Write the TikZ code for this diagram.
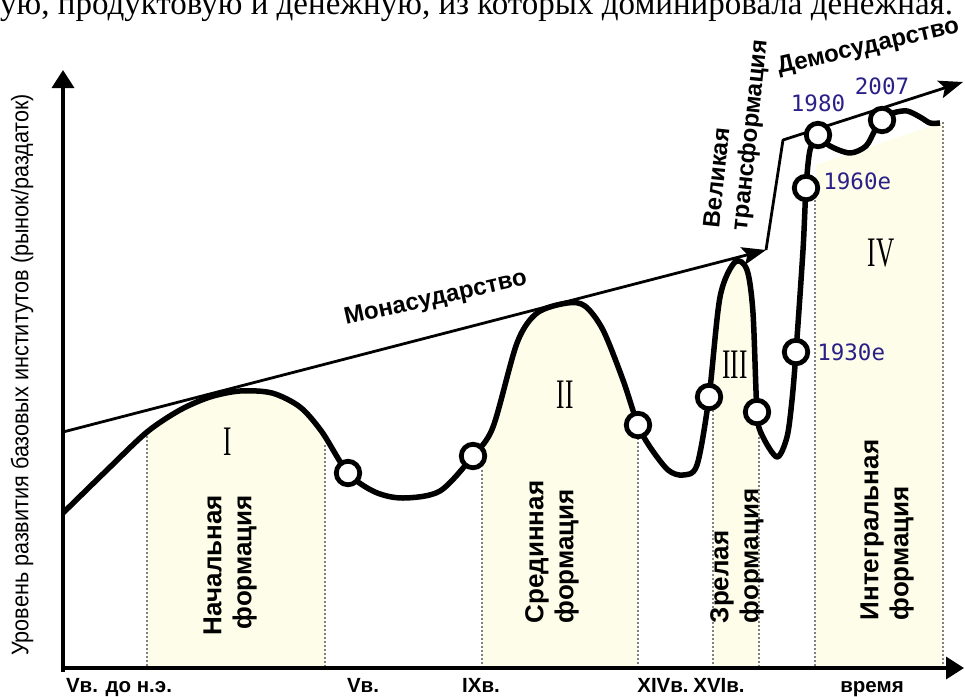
\documentclass[tikz,border=0pt]{standalone}
\usepackage{fontspec}
\setmainfont{Liberation Serif}
\newfontfamily\labelfont{Liberation Sans}
\newfontfamily\axisfont[FakeStretch=0.9]{Liberation Sans}
\newfontfamily\yearfont{DejaVu Sans Mono}
\newfontfamily\romanfont[FakeStretch=0.6]{Liberation Serif}
\usepackage{xcolor}
\usetikzlibrary{arrows.meta, positioning}

\definecolor{formfill}{HTML}{FDFDE9}
\definecolor{yearblue}{HTML}{2A2088}
\definecolor{dotgray}{HTML}{808080}

% main growth curve, up to the 1980 point
\newcommand{\formcurve}{plot[smooth] coordinates {(63,513) (107,470) (147,432) (180,410) (210,397) (240,391) (272,393) (300,407) (322,432) (348,473) (375,492) (403,498) (440,491) (473,456) (493,427) (517,343) (537,313) (567,303) (585,306) (603,330) (623,380) (638,425) (650,447) (668,470) (683,475) (697,465) (709,397) (720,297) (735,262) (747,270) (753,313) (757,412) (762,435) (777,457) (787,437) (792,400) (796,352) (803,250) (806,188) (810,150) (818,135)}}

\begin{document}
\begin{tikzpicture}[x=1pt, y=-1pt,
  axis/.style={line width=3.5pt, -{Triangle[length=18pt, width=22pt]}},
  stateline/.style={line width=2.8pt, line join=round, -{Stealth[length=24pt, width=18pt, inset=5pt]}},
  growth/.style={line width=5.5pt, line join=round},
  stage/.style={circle, draw, fill=white, line width=4.8pt, minimum size=23.5pt, inner sep=0pt},
  formborder/.style={draw=dotgray, line width=1.5pt, dash pattern=on 1.5pt off 2.5pt},
  formlabel/.style={font=\labelfont\bfseries\fontsize{26}{30}\selectfont, rotate=90, align=left, inner sep=0pt},
  numeral/.style={font=\romanfont\fontsize{42}{42}\selectfont, inner sep=0pt},
  year/.style={font=\yearfont\fontsize{22.5}{24}\selectfont, text=yearblue, inner sep=0pt},
  ticklabel/.style={font=\labelfont\bfseries\fontsize{20.5}{24}\selectfont, inner sep=0pt, anchor=base},
  statelabel/.style={font=\labelfont\bfseries\fontsize{24}{28}\selectfont, inner sep=0pt}]
  \useasboundingbox (0,0) rectangle (965,696);

  % Text line above the figure
  \node[anchor=base west, inner sep=0pt, font=\fontsize{33}{36}\selectfont] (topline) at (0,14)
    {ую, продуктовую и денежную, из которых доминировала денежная.};

  % Formations (shaded)
  \begin{scope}
    \clip (147,250) rectangle (325,668) (482,250) rectangle (638,668) (713,250) rectangle (759,668);
    \fill[formfill] \formcurve -- (818,668) -- (63,668) -- cycle;
  \end{scope}
  \fill[formfill] (816,165) -- (943,122) -- (943,668) -- (816,668) -- cycle;
  \foreach \xa/\ya in {147/432, 325/445, 482/470, 638/438, 713/410, 759/425, 815/200, 943/122}
    \draw[formborder] (\xa,\ya) -- (\xa,668);

  % Axes
  \coordinate (origin) at (63,672);
  \coordinate (ytip) at (63,70);
  \coordinate (xstart) at (61,668);
  \coordinate (xtip) at (964,668);
  \draw[axis] (origin) -- (ytip);
  \draw[axis] (xstart) -- (xtip);

  % State lines
  \coordinate (mono start) at (63,432);
  \coordinate (mono end) at (766,250);
  \coordinate (kink) at (783,140);
  \coordinate (demo end) at (963,82);
  \draw[stateline] (mono start) -- (mono end);
  \draw[stateline] (mono end) -- (kink) -- (demo end);

  % Curve
  \draw[growth] \formcurve;
  \draw[growth] plot[smooth] coordinates {(818,135) (830,146) (850,153) (866,146) (875,130) (882,120) (893,113) (907,111) (920,117) (930,123) (940,123)};

  % Stage points
  \node[stage] (s1) at (348,473) {};
  \node[stage] (s2) at (473,456) {};
  \node[stage] (s3) at (638,425) {};
  \node[stage] (s4) at (709,397) {};
  \node[stage] (s5) at (757,412) {};
  \node[stage] (c1930) at (796,352) {};
  \node[stage] (c1960) at (806,188) {};
  \node[stage] (c1980) at (818,135) {};
  \node[stage] (c2007) at (882,120) {};

  \node[year, right=7pt of c1930] (y1930) {1930e};
  \node[year, right=3pt of c1960, yshift=7pt] (y1960) {1960e};
  \node[year, above=9pt of c1980] (y1980) {1980};
  \node[year, above=11pt of c2007] (y2007) {2007};

  % Numerals and formation names
  \node[numeral] (num1) at (228,442) {I};
  \node[numeral] (num2) at (565,395) {II};
  \node[numeral] (num3) at (735,365) {III};
  \node[numeral] (num4) at (881,253) {IV};

  \node[formlabel, align=right] (form1) at (230,565) {Начальная\\формация};
  \node[formlabel] (form2) at (552,552) {Срединная\\формация};
  \node[formlabel] (form3) at (737,556) {Зрелая\\формация};
  \node[formlabel] (form4) at (887,530) {Интегральная\\формация};

  % State labels
  \node[statelabel, rotate=12.5, anchor=base west] (mono label) at (346,325) {Монасударство};
  \node[statelabel, rotate=13, anchor=base west] (demo label) at (779,74) {Демосударство};
  \node[statelabel, rotate=84, align=left, anchor=south west] (trans label) at (752,232) {Великая\\трансформация};

  % Axis labels
  \node[ticklabel] (t1) at (119,692) {Vв. до н.э.};
  \node[ticklabel] (t2) at (363,692) {Vв.};
  \node[ticklabel] (t3) at (481,692) {IXв.};
  \node[ticklabel] (t4) at (663,692) {XIVв.};
  \node[ticklabel] (t5) at (719,692) {XVIв.};
  \node[ticklabel] (t6) at (872,692) {время};
  \node[rotate=90, inner sep=0pt, font=\axisfont\fontsize{24}{26}\selectfont] (ylabel) at (22,375)
    {Уровень развития базовых институтов (рынок/раздаток)};
\end{tikzpicture}
\end{document}
